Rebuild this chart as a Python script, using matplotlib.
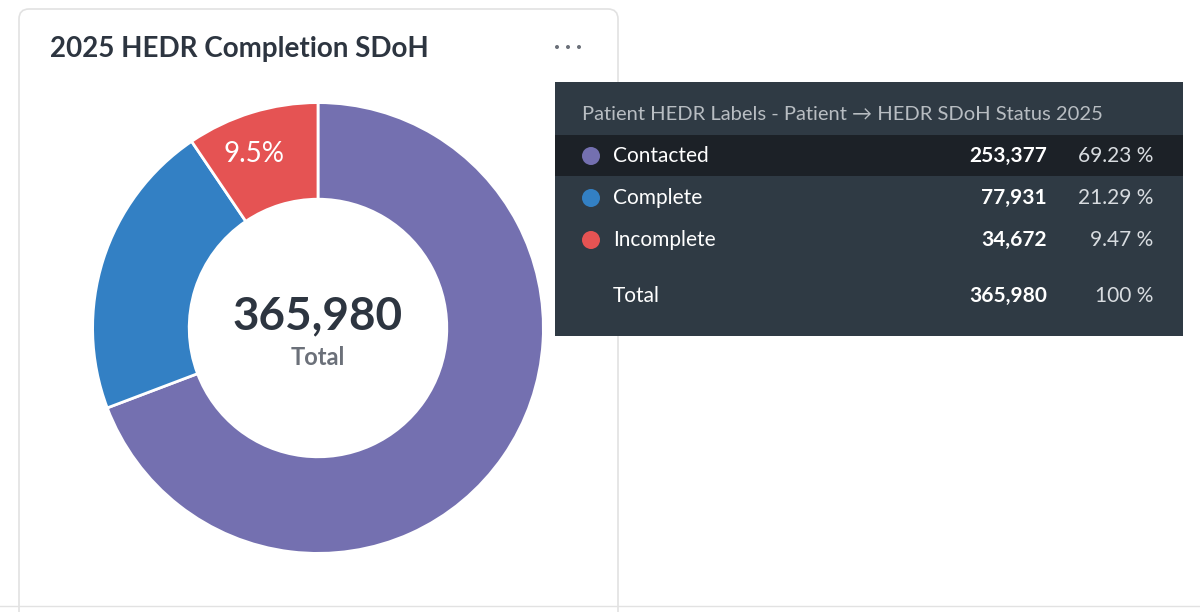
import matplotlib
matplotlib.use("Agg")
import matplotlib.pyplot as plt
from matplotlib.patches import FancyBboxPatch, Rectangle, Circle

plt.rcParams['font.family'] = ['Lato', 'DejaVu Sans']

labels = ["Contacted", "Complete", "Incomplete"]
values = [253377, 77931, 34672]
colors = ["#7470B0", "#3380C4", "#E55353"]
title = "2025 HEDR Completion SDoH"
tip_header = "Patient HEDR Labels - Patient \u2192 HEDR SDoH Status 2025"

total = sum(values)
pcts = [v / total * 100 for v in values]

fig = plt.figure(figsize=(12, 6.12), dpi=100)
bg = fig.add_axes([0, 0, 1, 1])
bg.set_xlim(0, 1200)
bg.set_ylim(612, 0)
bg.axis("off")

# card
bg.add_patch(FancyBboxPatch((19, 9), 599, 620, boxstyle="round,pad=0,rounding_size=10",
                            facecolor="white", edgecolor="#E2E2E2", lw=1.2))
bg.plot([0, 1200], [606, 606], color="#E2E2E2", lw=1)
bg.text(50, 49, title, fontsize=20, fontweight="bold", color="#2D3540", va="center")
for dx in (-11, 0, 11):
    bg.add_patch(Circle((568 + dx, 47), 2, facecolor="#6B7079", edgecolor="none"))

# donut
pa = fig.add_axes([(318 - 230) / 1200, (612 - 328 - 230) / 612, 460 / 1200, 460 / 612])
wedges, _ = pa.pie(values, colors=colors, startangle=90, counterclock=False, radius=0.98,
                   wedgeprops=dict(width=0.42, edgecolor="white", linewidth=2))
pa.set_xlim(-1, 1)
pa.set_ylim(-1, 1)
pa.set_aspect("equal")
pa.text(0, 0.05, f"{total:,}", ha="center", va="center", fontsize=33, fontweight="bold", color="#2D3540")
pa.text(0, -0.13, "Total", ha="center", va="center", fontsize=17, fontweight="bold", color="#6B7079")
pa.text(-0.28, 0.755, f"{pcts[2]:.1f}%", ha="center", va="center", fontsize=20, color="white")

# tooltip
bg.add_patch(Rectangle((555, 82), 628, 254, facecolor="#2F3A44", edgecolor="none"))
bg.add_patch(Rectangle((555, 135), 628, 41, facecolor="#1C2127", edgecolor="none"))
bg.text(582, 115, tip_header, fontsize=14.5, color="#B8BDC2", va="center")
rows_y = [156, 198, 240]
for y, lab, v, p, c in zip(rows_y, labels, values, pcts, colors):
    bg.add_patch(Circle((591, y), 9, facecolor=c, edgecolor="none"))
    bg.text(613, y, lab, fontsize=15, color="white", va="center")
    bg.text(1047, y, f"{v:,}", fontsize=15, fontweight="bold", color="white", va="center", ha="right")
    bg.text(1153, y, f"{p:.2f} %", fontsize=15, color="#D8DCE0", va="center", ha="right")
bg.text(613, 296, "Total", fontsize=15, color="white", va="center")
bg.text(1047, 296, f"{total:,}", fontsize=15, fontweight="bold", color="white", va="center", ha="right")
bg.text(1153, 296, "100 %", fontsize=15, color="#D8DCE0", va="center", ha="right")

fig.savefig("out.png", dpi=100)
